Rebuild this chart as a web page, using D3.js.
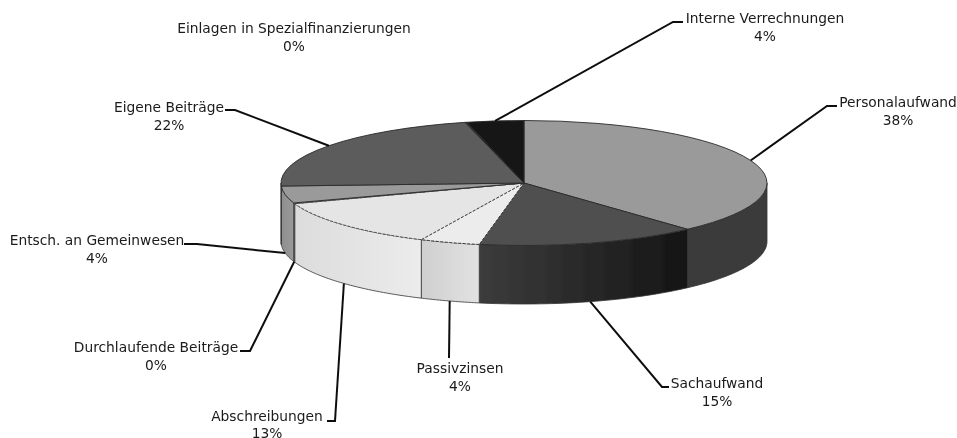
<!DOCTYPE html>
<html><head><meta charset="utf-8">
<script src="https://cdn.jsdelivr.net/npm/d3@7"></script>
<style>html,body{margin:0;padding:0;background:#fff}svg{display:block}text{font-family:"DejaVu Sans",sans-serif;font-size:13.8px;fill:#1a1a1a}</style>
</head><body><svg width="957" height="438"></svg>
<script>
const categories=["Personalaufwand","Sachaufwand","Passivzinsen","Abschreibungen","Durchlaufende Beiträge","Entsch. an Gemeinwesen","Eigene Beiträge","Einlagen in Spezialfinanzierungen","Interne Verrechnungen"];
const values=[38.3,14.7,4.0,12.7,0.2,4.4,21.9,0.1,3.8];
// styling and layout, by slice
const topColors=["#9a9a9a","#4f4f4f","#ececec","#e5e5e5","#cccccc","#9a9a9a","#5c5c5c","#333333","#191919"];
const sideStops=[["#3a3a3a","#3a3a3a"],["#3c3c3c","#151515"],["#cfcfcf","#e2e2e2"],["#dcdcdc","#ececec"],["#bbbbbb","#bbbbbb"],["#8e8e8e","#9a9a9a"],["#444","#444"],["#222","#222"],["#111","#111"]];
const labelPos=[[898,107],[717,388],[460,373],[267,420.5],[156,352],[97,245],[169,112],[294,33],[765,23]];
const elbows=[[[827,106],[837,106]],[[662,387],[669,387]],[[449,358]],[[335,421],[327,421]],[[250,351],[240,351]],[[197,244],[184,244]],[[235,110],[225,110]],null,[[673,22],[683,22]]];

const cx=524,cy=183,rx=243,ry=62.5,depth=58.5;
const svg=d3.select("svg");
const defs=svg.append("defs");
defs.append("filter").attr("id","soft").append("feGaussianBlur").attr("stdDeviation",0.45);
const pieData=d3.pie().sort(null).value(d=>d)(values);
const px=a=>cx+rx*Math.sin(a), py=a=>cy-ry*Math.cos(a);
const g=svg.append("g").attr("filter","url(#soft)");

// side wall, visible only on the front half
const area=d3.area().x(px).y0(py).y1(a=>py(a)+depth);
pieData.forEach((p,i)=>{
  const a0=Math.max(p.startAngle,Math.PI/2),a1=Math.min(p.endAngle,3*Math.PI/2);
  if(a1<=a0) return;
  const n=40,pts=d3.range(n+1).map(k=>a0+(a1-a0)*k/n);
  const xs=d3.extent(pts,px);
  const gr=defs.append("linearGradient").attr("id","s"+i).attr("gradientUnits","userSpaceOnUse")
    .attr("x1",xs[0]).attr("x2",xs[1]).attr("y1",0).attr("y2",0);
  gr.append("stop").attr("offset",0).attr("stop-color",sideStops[i][0]);
  gr.append("stop").attr("offset",1).attr("stop-color",sideStops[i][1]);
  g.append("path").attr("d",area(pts)).attr("fill",`url(#s${i})`).attr("stroke","#333").attr("stroke-width",0.8);
});

// top face
const arc=d3.arc().innerRadius(0).outerRadius(rx);
const face=g.append("g").attr("transform",`translate(${cx},${cy}) scale(1,${ry/rx})`);
face.selectAll("path").data(pieData).join("path").attr("d",arc)
  .attr("fill",(d,i)=>topColors[i])
  .attr("stroke",(d,i)=>i===3||i===4?"#444":"#2a2a2a")
  .attr("stroke-width",0.9)
  .attr("stroke-dasharray",(d,i)=>i===2||i===3?"3 1.5":null)
  .attr("vector-effect","non-scaling-stroke");

// leaders and labels
const mid=p=>(p.startAngle+p.endAngle)/2;
const leader=d3.line();
pieData.forEach((p,i)=>{
  if(elbows[i]){
    const a=mid(p);
    const front=Math.cos(a)<0.05;
    const start=[px(a),py(a)+(front?depth:0)];
    g.append("path").attr("d",leader([start,...elbows[i]])).attr("fill","none").attr("stroke","#111").attr("stroke-width",2);
  }
  const t=g.append("text").attr("text-anchor","middle").attr("x",labelPos[i][0]).attr("y",labelPos[i][1]);
  t.append("tspan").attr("x",labelPos[i][0]).text(categories[i]);
  t.append("tspan").attr("x",labelPos[i][0]).attr("dy",17.5).text(d3.format(".0f")(values[i])+"%");
});
</script></body></html>
